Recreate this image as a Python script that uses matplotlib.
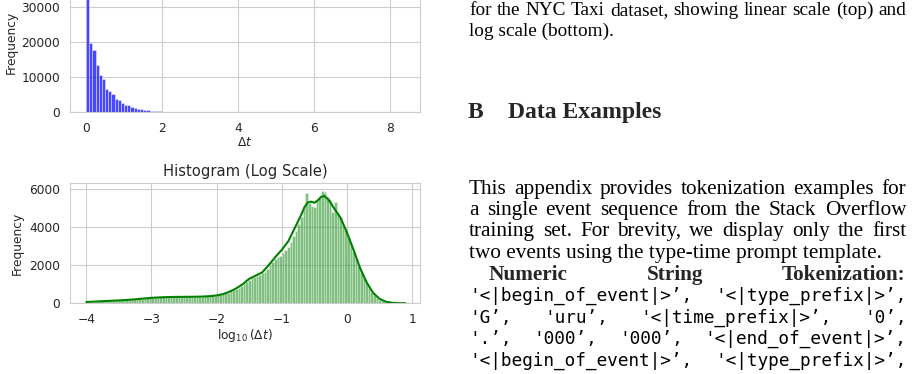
import numpy as np
import matplotlib
matplotlib.use("Agg")
import matplotlib.pyplot as plt
from matplotlib.transforms import IdentityTransform
import seaborn as sns

# --- data ---

# linear-scale histogram of delta t: 100 bins over [0, 8.37]
lin_range = (0.0, 8.37)
lin_nbins = 100
lin_counts_head = [38000, 19800, 17800, 13300, 10500, 9500, 6600, 6000, 5000, 3750,
                   3450, 2600, 2100, 1900, 1450, 1150, 950, 750, 550, 450,
                   350, 280, 210, 160, 120, 90, 60, 40, 25, 15]
lin_last_bin_count = 40  # the lone long gap at the far right

# log-scale histogram: bins of 0.04 over [-4.0, 0.88]
log_range = (-4.0, 0.88)
log_counts = [60, 70, 80, 85, 95, 100, 110, 115, 120, 125,
              135, 140, 150, 160, 170, 180, 190, 200, 210, 225,
              240, 250, 265, 275, 285, 295, 300, 310, 320, 325,
              330, 330, 335, 330, 340, 335, 340, 345, 335, 340,
              345, 350, 340, 355, 350, 360, 365, 375, 385, 400,
              420, 450, 470, 520, 560, 620, 680, 740, 820, 900,
              1000, 1100, 1230, 1340, 1400, 1450, 1500, 1560, 1650, 1800,
              2000, 2150, 2300, 2420, 2500, 2650, 2800, 2950, 3200, 3500,
              3800, 4150, 4500, 4950, 5750, 5250, 5100, 5050, 5350, 5500,
              5900, 5800, 5550, 5450, 4800, 5300, 4700, 4500, 4100, 3850,
              3400, 3050, 2700, 2300, 1950, 1650, 1350, 1050, 800, 600,
              420, 290, 190, 120, 70, 40, 25, 15, 8, 5,
              3, 2]

# kde curve drawn over the log histogram
kde_x = [-4.0, -3.9, -3.8, -3.7, -3.6, -3.5, -3.4, -3.3, -3.2, -3.1,
         -3.0, -2.9, -2.8, -2.7, -2.6, -2.5, -2.4, -2.3, -2.2, -2.1,
         -2.0, -1.9, -1.8, -1.7, -1.6, -1.5, -1.4, -1.3, -1.2, -1.1,
         -1.0, -0.9, -0.8, -0.7, -0.65, -0.6, -0.55, -0.5, -0.45, -0.4,
         -0.35, -0.3, -0.25, -0.2, -0.1, 0.0, 0.1, 0.2, 0.3, 0.4,
         0.5, 0.6, 0.7, 0.8, 0.9]
kde_y = [70, 85, 100, 120, 135, 150, 170, 195, 225, 255,
         285, 305, 320, 330, 335, 338, 340, 345, 355, 375,
         410, 480, 610, 780, 1000, 1280, 1450, 1620, 2000, 2420,
         2800, 3250, 3950, 4650, 5050, 5280, 5320, 5260, 5380, 5560,
         5620, 5480, 5260, 4980, 4480, 3700, 2800, 1850, 1100, 550,
         230, 80, 25, 8, 2]

# page text to the right of the figure
caption_lines = ["for the NYC Taxi dataset, showing linear scale (top) and",
                 "log scale (bottom)."]
heading_num = "B"
heading_title = "Data Examples"
para_lines = ["This appendix provides tokenization examples for",
              "a single event sequence from the Stack Overflow",
              "training set. For brevity, we display only the first",
              "two events using the type-time prompt template."]
bold_line = "Numeric String Tokenization:"
code_lines = ["'<|begin_of_event|>’, '<|type_prefix|>’,",
              "'G’, 'uru’, '<|time_prefix|>’, '0’,",
              "'.’, '000’, '000’, '<|end_of_event|>’,",
              "'<|begin_of_event|>’, '<|type_prefix|>’,"]

W, H = 913, 374

sns.set_style("whitegrid")
plt.rcParams["font.family"] = ["DejaVu Sans"]
plt.rcParams["axes.labelcolor"] = ".15"
plt.rcParams["xtick.color"] = ".15"
plt.rcParams["ytick.color"] = ".15"

fig = plt.figure(figsize=(W / 100, H / 100), dpi=100)


def axes_px(left, top, right, bottom):
    # axes box given in pixels measured from the top-left corner
    return fig.add_axes([left / W, 1 - bottom / H, (right - left) / W, (bottom - top) / H])


tick_fs = 8.8
label_fs = 8.8
title_fs = 10.6

# --- top: linear scale ---
ax1 = axes_px(70, 112 - 139.7, 420, 112)
lin_edges = np.linspace(lin_range[0], lin_range[1], lin_nbins + 1)
lin_counts = np.zeros(lin_nbins)
lin_counts[:len(lin_counts_head)] = lin_counts_head
lin_counts[-1] = lin_last_bin_count
ax1.bar(lin_edges[:-1], lin_counts, width=np.diff(lin_edges), align="edge",
        color="blue", alpha=0.72, edgecolor="white", linewidth=0.4)
ax1.set_xlim(-0.42, 8.79)
ax1.set_ylim(0, 39900)
ax1.set_xticks([0, 2, 4, 6, 8])
ax1.set_yticks([0, 10000, 20000, 30000])
ax1.set_xlabel(r"$\Delta t$", fontsize=label_fs, labelpad=1)
ax1.set_ylabel("Frequency", fontsize=label_fs, labelpad=3)
ax1.tick_params(labelsize=tick_fs)

# --- bottom: log scale ---
ax2 = axes_px(70, 183.3, 420, 303.3)
log_edges = np.linspace(log_range[0], log_range[1], len(log_counts) + 1)
ax2.bar(log_edges[:-1], log_counts, width=np.diff(log_edges), align="edge",
        color="green", alpha=0.5, edgecolor="white", linewidth=0.4)
ax2.plot(kde_x, kde_y, color="green", linewidth=1.5)
ax2.set_xlim(-4.25, 1.12)
ax2.set_ylim(0, 6280)
ax2.set_xticks([-4, -3, -2, -1, 0, 1])
ax2.set_yticks([0, 2000, 4000, 6000])
ax2.set_title("Histogram (Log Scale)", fontsize=title_fs, color=".15", pad=5)
ax2.set_xlabel(r"$\log_{10}(\Delta t)$", fontsize=label_fs, labelpad=1)
ax2.set_ylabel("Frequency", fontsize=label_fs)
ax2.tick_params(labelsize=tick_fs)

# --- page text ---
renderer = fig.canvas.get_renderer()
serif = "Liberation Serif"
mono = "DejaVu Sans Mono"
x_left, x_right = 469, 906


def text_line(s, x0, y_top, justify=True, x1=x_right, **kw):
    # place a line by its baseline, y measured from the top of the page
    y = round(H - y_top)
    if not justify:
        fig.text(x0, y, s, transform=IdentityTransform(), va="baseline", **kw)
        return
    words = s.split()
    items = [fig.text(0, y, w, transform=IdentityTransform(), va="baseline", **kw)
             for w in words]
    widths = [t.get_window_extent(renderer).width for t in items]
    gap = (x1 - x0 - sum(widths)) / max(len(words) - 1, 1)
    x = x0
    for t, w in zip(items, widths):
        t.set_x(round(x))
        x += w + gap


caption = dict(family=serif, fontsize=13.9, color="black")
body = dict(family=serif, fontsize=15.3, color="black")
text_line(caption_lines[0], x_left, 15, **caption)
text_line(caption_lines[1], x_left, 36.5, justify=False, **caption)

fig.text(468, H - 118, heading_num, transform=IdentityTransform(), va="baseline",
         family=serif, fontsize=17, fontweight="bold")
fig.text(508, H - 118, heading_title, transform=IdentityTransform(), va="baseline",
         family=serif, fontsize=17, fontweight="bold")

para_base = [193.5, 215, 236.5, 258]
for i, line in enumerate(para_lines):
    text_line(line, x_left, para_base[i], justify=(i < len(para_lines) - 1), **body)

text_line(bold_line, 489, 279.5, family=serif, fontsize=15.3, fontweight="bold")

code_base = [301, 323, 344.5, 366.5]
for line, yb in zip(code_lines, code_base):
    text_line(line, x_left, yb, family=mono, fontsize=12.8, color="black")

fig.savefig("out.png", dpi=100)
